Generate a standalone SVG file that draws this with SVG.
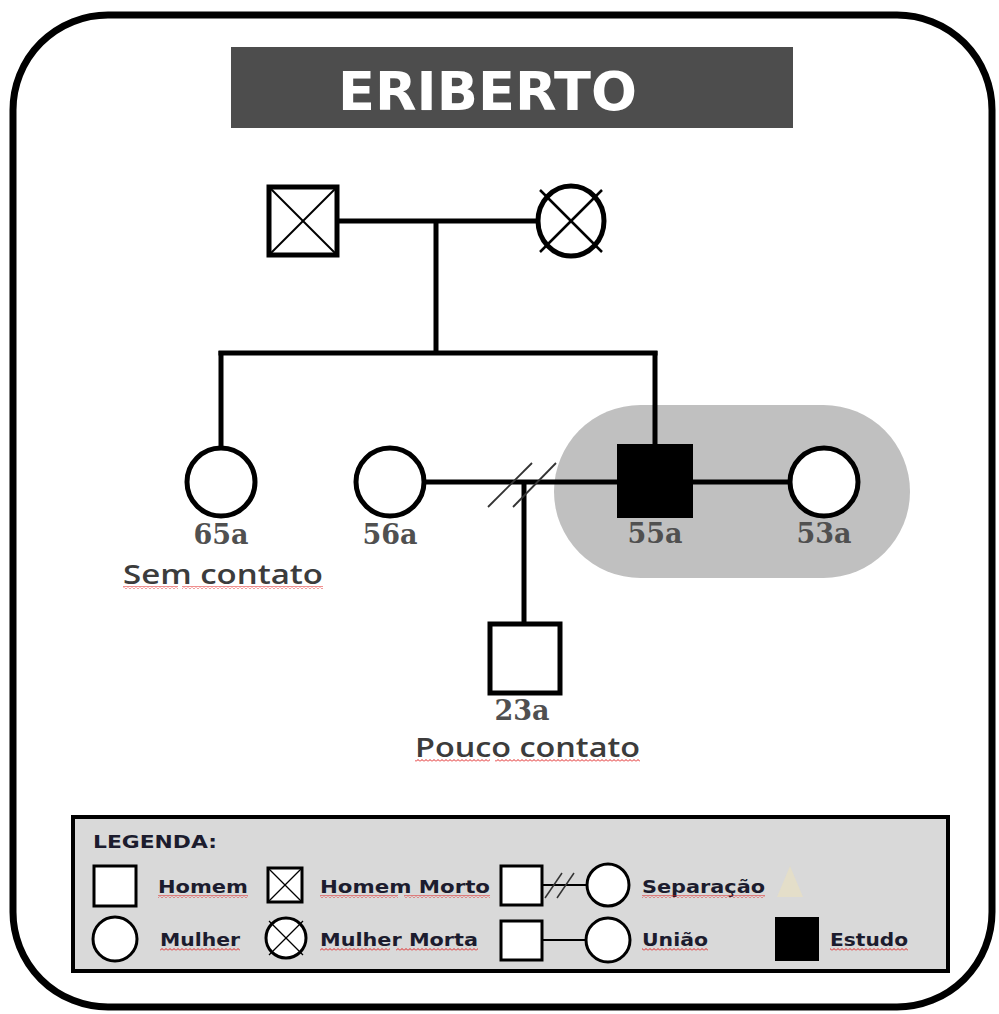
<svg xmlns="http://www.w3.org/2000/svg" width="999" height="1014" viewBox="0 0 999 1014">
<style>
.ln{stroke:#000;stroke-width:5;fill:none}
.thin{stroke:#333;stroke-width:1.8;fill:none}
.sym{fill:#fff;stroke:#000;stroke-width:5}
.lsym{fill:#fff;stroke:#000;stroke-width:3}
.age{font-family:"DejaVu Serif","Liberation Serif",serif;font-weight:bold;font-size:27px;fill:#505050;text-anchor:middle}
.note{font-family:"Open Sans","Noto Sans",sans-serif;font-weight:600;font-size:27px;fill:#3c3c3c}
.leg{font-family:"DejaVu Sans","Liberation Sans",sans-serif;font-weight:bold;font-size:18px;fill:#1c1c2e}
</style>
<defs>
<pattern id="sq" width="4" height="3" patternUnits="userSpaceOnUse">
<path d="M0,2.5 L2,0.5 L4,2.5" stroke="#e02020" stroke-width="1" fill="none"/>
</pattern>
</defs>
<rect width="999" height="1014" fill="#fff"/>
<g id="frame">
<rect x="13" y="15" width="979" height="992" rx="95" ry="95" fill="#fff" stroke="#000" stroke-width="7"/>
</g>
<g id="title">
<rect x="231" y="47" width="562" height="81" fill="#4d4d4d"/>
<text x="487.5" y="110" font-family="DejaVu Sans, Liberation Sans, sans-serif" font-weight="bold" font-size="54" fill="#fff" text-anchor="middle" textLength="299" lengthAdjust="spacingAndGlyphs">ERIBERTO</text>
</g>
<g id="highlight">
<rect x="554" y="405" width="356" height="173" rx="86.5" ry="86.5" fill="#c0c0c0"/>
</g>
<g id="connectors">
<line class="ln" x1="339" y1="221" x2="536" y2="221"/>
<line class="ln" x1="436" y1="221" x2="436" y2="353"/>
<line class="ln" x1="218.5" y1="353" x2="657.5" y2="353"/>
<line class="ln" x1="221" y1="351" x2="221" y2="447"/>
<line class="ln" x1="655" y1="351" x2="655" y2="444"/>
<line class="ln" x1="426" y1="482" x2="618" y2="482"/>
<line class="ln" x1="524" y1="482" x2="524" y2="622"/>
<line class="thin" x1="488" y1="507" x2="532" y2="463"/>
<line class="thin" x1="513" y1="507" x2="556" y2="463"/>
<line class="ln" x1="693" y1="482" x2="789" y2="482"/>
</g>
<g id="father">
<rect class="sym" x="269" y="187" width="68" height="68"/>
<line x1="269" y1="187" x2="337" y2="255" stroke="#000" stroke-width="2"/>
<line x1="337" y1="187" x2="269" y2="255" stroke="#000" stroke-width="2"/>
</g>
<g id="mother">
<ellipse class="sym" cx="571" cy="221" rx="33" ry="35"/>
<line x1="540" y1="190" x2="602" y2="252" stroke="#000" stroke-width="2.5"/>
<line x1="602" y1="190" x2="540" y2="252" stroke="#000" stroke-width="2.5"/>
</g>
<g id="sister65">
<circle class="sym" cx="221" cy="482" r="34"/>
<text class="age" x="221" y="544">65a</text>
<text class="note" x="123" y="584" textLength="200" lengthAdjust="spacingAndGlyphs">Sem contato</text>
<rect x="123" y="586" width="55" height="3" fill="url(#sq)"/>
<rect x="182" y="586" width="141" height="3" fill="url(#sq)"/>
</g>
<g id="exwife56">
<circle class="sym" cx="390" cy="482" r="34"/>
<text class="age" x="390" y="544">56a</text>
</g>
<g id="ego55">
<rect x="617" y="444" width="76" height="74" fill="#000"/>
<text class="age" x="655" y="543">55a</text>
</g>
<g id="wife53">
<circle class="sym" cx="824" cy="482" r="34"/>
<text class="age" x="824" y="543">53a</text>
</g>
<g id="son23">
<rect class="sym" x="490" y="624" width="70" height="69"/>
<text class="age" x="522" y="720">23a</text>
<text class="note" x="415" y="757" textLength="225" lengthAdjust="spacingAndGlyphs">Pouco contato</text>
<rect x="415" y="759" width="75" height="3" fill="url(#sq)"/>
<rect x="495" y="759" width="145" height="3" fill="url(#sq)"/>
</g>
<g id="legend">
<rect x="73" y="817" width="875" height="154" fill="#d9d9d9" stroke="#000" stroke-width="4"/>
<text class="leg" x="93" y="848" font-size="17" textLength="124" lengthAdjust="spacingAndGlyphs" fill="#1a1a40">LEGENDA:</text>
<rect class="lsym" x="94" y="866" width="42" height="40"/>
<text class="leg" x="158" y="893" textLength="90" lengthAdjust="spacingAndGlyphs">Homem</text>
<rect x="158" y="895" width="90" height="3" fill="url(#sq)"/>
<rect class="lsym" x="268" y="868" width="34" height="34" stroke-width="2"/>
<line x1="268" y1="868" x2="302" y2="902" stroke="#000" stroke-width="1.2"/>
<line x1="302" y1="868" x2="268" y2="902" stroke="#000" stroke-width="1.2"/>
<text class="leg" x="320" y="893" textLength="170" lengthAdjust="spacingAndGlyphs">Homem Morto</text>
<rect x="320" y="895" width="78" height="3" fill="url(#sq)"/>
<rect x="404" y="895" width="86" height="3" fill="url(#sq)"/>
<rect class="lsym" x="501" y="866" width="41" height="39"/>
<line x1="542" y1="885" x2="588" y2="885" stroke="#000" stroke-width="2"/>
<line x1="545" y1="898" x2="562" y2="873" stroke="#333" stroke-width="1.5"/>
<line x1="557" y1="898" x2="574" y2="873" stroke="#333" stroke-width="1.5"/>
<circle class="lsym" cx="608" cy="885" r="21"/>
<text class="leg" x="642" y="893" textLength="123" lengthAdjust="spacingAndGlyphs">Separação</text>
<rect x="642" y="895" width="123" height="3" fill="url(#sq)"/>
<polygon points="790,866 777,897 803,897" fill="#ece2bc" opacity="0.55"/>
<circle class="lsym" cx="115" cy="939" r="22"/>
<text class="leg" x="160" y="946" textLength="80" lengthAdjust="spacingAndGlyphs">Mulher</text>
<rect x="160" y="948" width="80" height="3" fill="url(#sq)"/>
<circle class="lsym" cx="286" cy="938" r="20" stroke-width="2"/>
<line x1="269" y1="921" x2="303" y2="955" stroke="#000" stroke-width="1.2"/>
<line x1="303" y1="921" x2="269" y2="955" stroke="#000" stroke-width="1.2"/>
<text class="leg" x="320" y="946" textLength="158" lengthAdjust="spacingAndGlyphs">Mulher Morta</text>
<rect x="320" y="948" width="70" height="3" fill="url(#sq)"/>
<rect x="396" y="948" width="82" height="3" fill="url(#sq)"/>
<rect class="lsym" x="501" y="921" width="41" height="39"/>
<line x1="542" y1="940" x2="588" y2="940" stroke="#000" stroke-width="2"/>
<circle class="lsym" cx="608" cy="940" r="22"/>
<text class="leg" x="642" y="946" textLength="66" lengthAdjust="spacingAndGlyphs">União</text>
<rect x="642" y="948" width="66" height="3" fill="url(#sq)"/>
<rect x="775" y="917" width="44" height="44" fill="#000"/>
<text class="leg" x="830" y="946" textLength="78" lengthAdjust="spacingAndGlyphs">Estudo</text>
<rect x="830" y="948" width="78" height="3" fill="url(#sq)"/>
</g>
</svg>
